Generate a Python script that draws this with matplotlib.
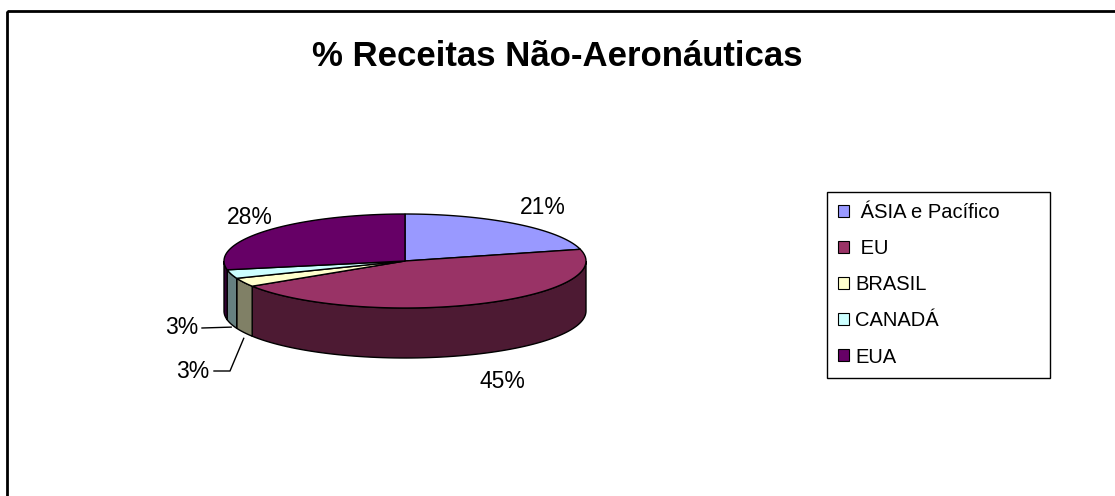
import matplotlib.pyplot as plt
import numpy as np
from matplotlib.patches import Polygon, Patch, Rectangle

# dados
regioes = ['ÁSIA e Pacífico', 'EU', 'BRASIL', 'CANADÁ', 'EUA']
legenda = [' ÁSIA e Pacífico', ' EU', 'BRASIL', 'CANADÁ', 'EUA']
valores = [21, 45, 3, 3, 28]
cores = ['#9999FF', '#993366', '#FFFFCC', '#CCFFFF', '#660066']
titulo = '% Receitas Não-Aeronáuticas'

plt.rcParams['font.family'] = ['Liberation Sans', 'DejaVu Sans']

fig = plt.figure(figsize=(11.15, 4.96), dpi=100)
ax = fig.add_axes([0, 0, 1, 1])
ax.set_xlim(0, 1115)
ax.set_ylim(496, 0)
ax.axis('off')

# geometria da "torta 3D" (em pixels)
cx, cy = 405, 261
rx, ry = 181, 47
prof = 50


def elipse(t, dy=0):
    t = np.radians(t)
    return np.column_stack([cx + rx * np.cos(t), cy - ry * np.sin(t) + dy])


def escurece(c, f=0.5):
    r, g, b = [int(c[i:i + 2], 16) for i in (1, 3, 5)]
    return (r / 255 * f, g / 255 * f, b / 255 * f)


total = sum(valores)
acum = np.cumsum([0] + valores) / total
t_ini = 90 - acum[:-1] * 360
t_fim = 90 - acum[1:] * 360

# laterais (metade da frente: t entre -180 e 0)
for a, b, c in zip(t_ini, t_fim, cores):
    hi, lo = min(a, 0), max(b, -180)
    if hi <= lo:
        continue
    ts = np.linspace(hi, lo, 80)
    pts = np.vstack([elipse(ts), elipse(ts[::-1], prof)])
    ax.add_patch(Polygon(pts, closed=True, facecolor=escurece(c),
                         edgecolor='black', linewidth=1))

# faces de cima
for a, b, c in zip(t_ini, t_fim, cores):
    ts = np.linspace(a, b, 150)
    pts = np.vstack([[cx, cy], elipse(ts)])
    ax.add_patch(Polygon(pts, closed=True, facecolor=c,
                         edgecolor='black', linewidth=1))

# rotulos de porcentagem
pos_rot = [(543, 207), (502, 381), (193, 372), (182, 328), (250, 217)]
for v, (x, y) in zip(valores, pos_rot):
    ax.text(x, y, '%d%%' % round(v * 100 / total), fontsize=16.5,
            ha='center', va='center')

# linhas de chamada dos 3%
tm = (t_ini + t_fim) / 2
p_br = elipse([tm[2]], prof + 6)[0]
p_ca = elipse([tm[3]], prof + 3)[0]
ax.plot([214, 230, p_br[0]], [371, 371, p_br[1]], color='black', lw=1)
ax.plot([202, p_ca[0]], [328, p_ca[1]], color='black', lw=1)

ax.text(557, 57, titulo, fontsize=25, fontweight='bold',
        ha='center', va='center')

# moldura
ax.add_patch(Rectangle((7, 11), 1200, 600, fill=False, edgecolor='black',
                       linewidth=2))

handles = [Patch(facecolor=c, edgecolor='black', linewidth=0.8) for c in cores]
leg = fig.legend(handles, legenda, loc='upper left', mode='expand',
                 bbox_to_anchor=(827 / 1115, 1 - 192 / 496, 223 / 1115, 0),
                 fontsize=14.5, frameon=True, fancybox=False,
                 edgecolor='black', framealpha=1, handlelength=0.55,
                 handleheight=0.55, handletextpad=0.3, labelspacing=0.85,
                 borderpad=0.55, borderaxespad=0)
leg.get_frame().set_linewidth(1)

fig.savefig('out.png', dpi=100)
